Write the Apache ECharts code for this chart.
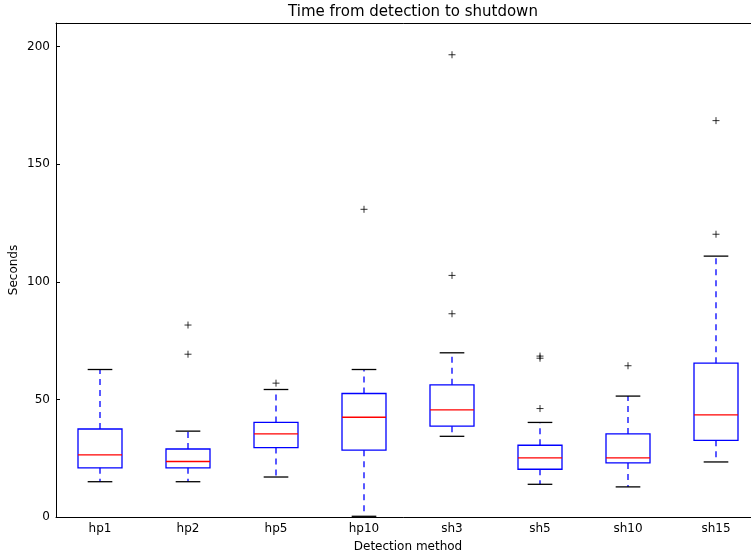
<!DOCTYPE html>
<html>
<head>
<meta charset="utf-8">
<title>Time from detection to shutdown</title>
<script src="https://cdn.jsdelivr.net/npm/echarts@6/dist/echarts.min.js"></script>
<style>
  html, body { margin: 0; padding: 0; background: #fff; }
  #chart { width: 751px; height: 554px; }
</style>
</head>
<body>
<div id="chart"></div>
<script>
  // values
  var categories = ['hp1', 'hp2', 'hp5', 'hp10', 'sh3', 'sh5', 'sh10', 'sh15'];
  var whiskerLow = [15.0, 15.0, 17.0, 0.3, 34.3, 13.9, 12.8, 23.4];
  var quartile1 = [20.9, 20.9, 29.5, 28.4, 38.6, 20.3, 23.0, 32.6];
  var medians = [26.4, 23.6, 35.3, 42.4, 45.5, 25.1, 25.1, 43.4];
  var quartile3 = [37.4, 28.9, 40.2, 52.5, 56.2, 30.5, 35.3, 65.4];
  var whiskerHigh = [62.7, 36.5, 54.2, 62.7, 69.8, 40.2, 51.4, 110.9];
  var outlierCat = [1, 1, 2, 3, 4, 4, 4, 5, 5, 5, 6, 7, 7];
  var outlierVal = [81.6, 69.2, 56.9, 130.8, 196.5, 102.7, 86.4, 68.4, 67.5, 46.1, 64.3, 168.5, 120.2];
  var yTicks = [0, 50, 100, 150, 200];

  var font = 'DejaVu Sans';
  var chart = echarts.init(document.getElementById('chart'));

  var boxData = categories.map(function (c, i) {
    return [i, whiskerLow[i], quartile1[i], medians[i], quartile3[i], whiskerHigh[i]];
  });
  var outlierData = outlierCat.map(function (c, i) {
    return [c, outlierVal[i]];
  });

  function renderBox(params, api) {
    var x = api.value(0);
    var band = api.size([1, 0])[0];
    var half = band * 0.25;
    var cap = band * 0.14;
    var pLow = api.coord([x, api.value(1)]);
    var pQ1 = api.coord([x, api.value(2)]);
    var pMed = api.coord([x, api.value(3)]);
    var pQ3 = api.coord([x, api.value(4)]);
    var pHigh = api.coord([x, api.value(5)]);
    var cx = pMed[0];
    var dash = {stroke: '#0000ff', lineWidth: 1.3, lineDash: [6, 5]};
    var black = {stroke: '#000', lineWidth: 1.3};
    return {
      type: 'group',
      children: [
        {type: 'line', shape: {x1: cx, y1: pQ3[1], x2: cx, y2: pHigh[1]}, style: dash},
        {type: 'line', shape: {x1: cx, y1: pQ1[1], x2: cx, y2: pLow[1]}, style: dash},
        {type: 'line', shape: {x1: cx - cap, y1: pHigh[1], x2: cx + cap, y2: pHigh[1]}, style: black},
        {type: 'line', shape: {x1: cx - cap, y1: pLow[1], x2: cx + cap, y2: pLow[1]}, style: black},
        {type: 'rect', shape: {x: cx - half, y: pQ3[1], width: half * 2, height: pQ1[1] - pQ3[1]},
          style: {fill: 'none', stroke: '#0000ff', lineWidth: 1.3}},
        {type: 'line', shape: {x1: cx - half, y1: pMed[1], x2: cx + half, y2: pMed[1]},
          style: {stroke: '#ff0000', lineWidth: 1.3}}
      ]
    };
  }

  var option = {
    animation: false,
    backgroundColor: '#fff',
    title: {
      text: 'Time from detection to shutdown',
      left: 408,
      textAlign: 'center',
      top: 0,
      textStyle: {fontFamily: font, fontSize: 15, fontWeight: 'normal', color: '#000'}
    },
    grid: {left: 56, top: 23, right: -9, bottom: 37, outerBoundsMode: 'none', containLabel: false},
    xAxis: [{
      type: 'category',
      data: categories,
      name: 'Detection method',
      nameLocation: 'middle',
      nameGap: 24,
      nameMoveOverlap: false,
      nameTextStyle: {fontFamily: font, fontSize: 12, color: '#000'},
      axisLine: {lineStyle: {color: '#000', width: 1}},
      axisTick: {inside: true, alignWithLabel: true, length: 4, lineStyle: {color: '#000'}},
      axisLabel: {fontFamily: font, fontSize: 12, color: '#000', margin: 6},
      splitLine: {show: false}
    }, {
      type: 'category',
      data: categories,
      position: 'top',
      axisLine: {lineStyle: {color: '#000', width: 1}},
      axisTick: {inside: true, alignWithLabel: true, length: 4, lineStyle: {color: '#000'}},
      axisLabel: {show: false},
      splitLine: {show: false}
    }],
    yAxis: {
      type: 'value',
      min: 0,
      max: 210,
      interval: 50,
      name: 'Seconds',
      nameLocation: 'middle',
      nameGap: 36,
      nameMoveOverlap: false,
      nameTextStyle: {fontFamily: font, fontSize: 12, color: '#000'},
      axisLine: {show: true, lineStyle: {color: '#000', width: 1}},
      axisTick: {show: true, inside: true, length: 4, lineStyle: {color: '#000'}},
      axisLabel: {
        fontFamily: font, fontSize: 12, color: '#000', margin: 6, showMaxLabel: false,
        formatter: function (v) { return yTicks.indexOf(v) >= 0 ? String(v) : ''; }
      },
      splitLine: {show: false}
    },
    series: [{
      type: 'custom',
      renderItem: renderBox,
      data: boxData,
      encode: {x: 0, y: [1, 2, 3, 4, 5]},
      z: 2
    }, {
      type: 'scatter',
      data: outlierData,
      symbol: 'path://M0,-5L0,5M-5,0L5,0',
      symbolSize: 7,
      itemStyle: {color: 'none', borderColor: '#000', borderWidth: 1},
      z: 3
    }]
  };

  chart.setOption(option);
</script>
</body>
</html>
